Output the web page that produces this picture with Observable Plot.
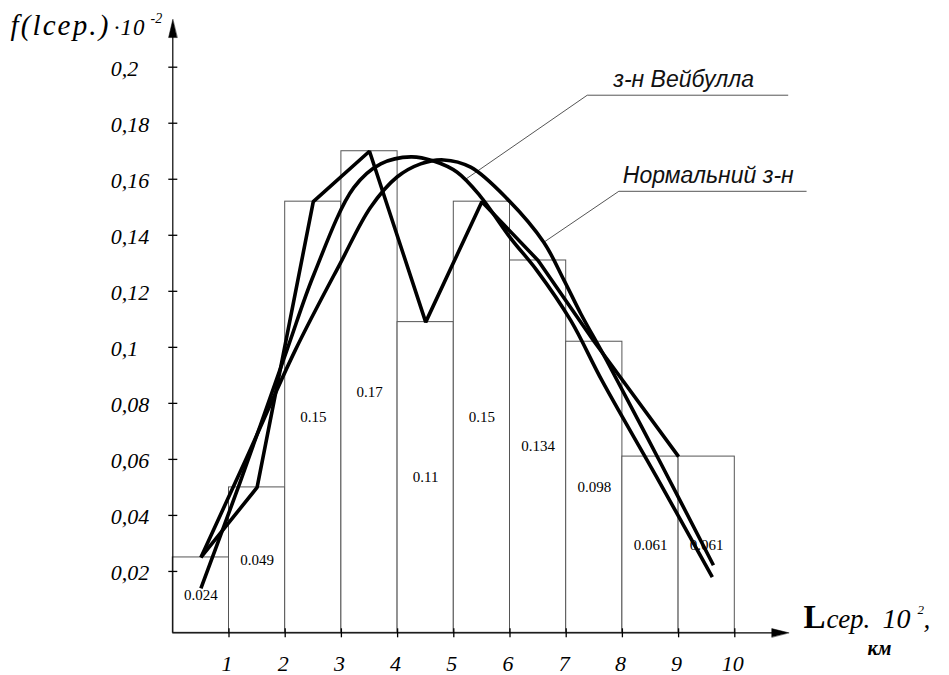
<!DOCTYPE html>
<html>
<head>
<meta charset="utf-8">
<script src="https://cdn.jsdelivr.net/npm/d3@7"></script>
<script src="https://cdn.jsdelivr.net/npm/@observablehq/plot@0.6"></script>
<style>
  html, body { margin: 0; padding: 0; background: #fff; }
  #chart svg { display: block; }
</style>
</head>
<body>
<div id="chart"></div>
<script>
// ---- data ----
const bins = [1, 2, 3, 4, 5, 6, 7, 8, 9, 10];
const freq = [0.025, 0.050, 0.152, 0.170, 0.109, 0.152, 0.131, 0.102, 0.061, 0.061];
const freqLabels = ["0.024", "0.049", "0.15", "0.17", "0.11", "0.15", "0.134", "0.098", "0.061", "0.061"];

const polygonX = [0.5, 1.5, 2.5, 3.5, 4.5, 5.5, 6.5, 7.5, 9];
const polygonY = [0.025, 0.050, 0.152, 0.170, 0.109, 0.152, 0.131, 0.102, 0.061];

const weibullX = [0.5, 1.2, 2.03, 2.51, 3.22, 3.70, 4.24, 4.64, 5.06, 5.47, 6.01, 6.48, 7.08, 7.64, 8.6, 9.6];
const weibullY = [0.014, 0.052, 0.099, 0.126, 0.157, 0.1655, 0.168, 0.1665, 0.1625, 0.154, 0.139, 0.1274, 0.1096, 0.088, 0.054, 0.018];

const normalX = [0.5, 1.3, 2.18, 2.98, 3.52, 3.99, 4.41, 4.82, 5.30, 5.95, 6.60, 6.96, 7.26, 7.72, 8.68, 9.62];
const normalY = [0.025, 0.060, 0.099, 0.130, 0.150, 0.1608, 0.1655, 0.1669, 0.1643, 0.153, 0.1375, 0.124, 0.112, 0.0953, 0.0587, 0.0222];

const yTicks = [0.02, 0.04, 0.06, 0.08, 0.1, 0.12, 0.14, 0.16, 0.18, 0.2];
const yTickLabels = ["0,02", "0,04", "0,06", "0,08", "0,1", "0,12", "0,14", "0,16", "0,18", "0,2"];
const xTicks = [1, 2, 3, 4, 5, 6, 7, 8, 9, 10];
const xTickLabels = ["1", "2", "3", "4", "5", "6", "7", "8", "9", "10"];

const weibullName = "з-н Вейбулла";
const normalName = "Нормальний з-н";
const weibullLeaderX = [5.196, 7.374, 10.943];
const weibullLeaderY = [0.1598, 0.190, 0.190];
const normalLeaderX = [6.601, 7.936, 11.27];
const normalLeaderY = [0.1375, 0.1557, 0.1557];

const yAxisOrigin = -0.0019;   // value where the drawn x axis sits
const yAxisEnd = 0.217;        // tip of the y arrow
const xAxisEnd = 10.96;        // tip of the x arrow

// ---- styles ----
const serif = "Liberation Serif, 'Times New Roman', serif";
const sans = "Liberation Sans, Arial, sans-serif";

const headShape = {
  draw(ctx, l, r) { ctx.moveTo(0, -l); ctx.lineTo(-r, 0); ctx.lineTo(r, 0); ctx.closePath(); }
};
const tickShape = {
  draw(ctx, l) { ctx.moveTo(0, 0); ctx.lineTo(0, -l); }
};

const svg = Plot.plot({
  width: 949,
  height: 675,
  marginLeft: 172.3,
  marginRight: 214.7,
  marginTop: 66.7,
  marginBottom: 42.7,
  style: { background: "white", color: "black" },
  x: { domain: [0, 10], axis: null },
  y: { domain: [yAxisOrigin, 0.2], axis: null },
  marks: [
    // histogram bars
    Plot.rect(bins, {
      x1: d => d - 1, x2: d => d,
      y1: yAxisOrigin, y2: (d, i) => freq[i],
      fill: "white", stroke: "#555", strokeWidth: 1
    }),
    Plot.text(bins, {
      x: d => d - 0.5, y: (d, i) => (yAxisOrigin + freq[i]) / 2,
      text: freqLabels, fontFamily: serif, fontSize: 15, fill: "black"
    }),
    // leader lines
    Plot.line(weibullLeaderX, { x: weibullLeaderX, y: weibullLeaderY, stroke: "#555", strokeWidth: 1 }),
    Plot.line(normalLeaderX, { x: normalLeaderX, y: normalLeaderY, stroke: "#555", strokeWidth: 1 }),
    Plot.text([weibullName], {
      x: weibullLeaderX[1], y: weibullLeaderY[1], text: d => d, dx: 26, dy: -8,
      textAnchor: "start", lineAnchor: "bottom",
      fontFamily: sans, fontStyle: "italic", fontSize: 23, fill: "#111"
    }),
    Plot.text([normalName], {
      x: normalLeaderX[1], y: normalLeaderY[1], text: d => d, dx: 4, dy: -8,
      textAnchor: "start", lineAnchor: "bottom",
      fontFamily: sans, fontStyle: "italic", fontSize: 23, fill: "#111"
    }),
    // curves
    Plot.line(polygonX, { x: polygonX, y: polygonY, stroke: "black", strokeWidth: 3.6, strokeLinejoin: "miter", strokeLinecap: "butt" }),
    Plot.line(weibullX, { x: weibullX, y: weibullY, curve: "catmull-rom", stroke: "black", strokeWidth: 3.6, strokeLinecap: "butt" }),
    Plot.line(normalX, { x: normalX, y: normalY, curve: "catmull-rom", stroke: "black", strokeWidth: 3.6, strokeLinecap: "butt" }),
    // axes
    Plot.ruleX([0], { y1: yAxisOrigin, y2: yAxisEnd - 0.003, stroke: "black", strokeWidth: 1.2 }),
    Plot.ruleY([yAxisOrigin], { x1: 0, x2: xAxisEnd - 0.05, stroke: "black", strokeWidth: 1.2 }),
    Plot.vector([0], { x: 0, y: yAxisEnd, length: 18, r: 4.2, rotate: 0, anchor: "end", shape: headShape, fill: "black", stroke: "black", strokeWidth: 0.5 }),
    Plot.vector([0], { x: xAxisEnd, y: yAxisOrigin, length: 17, r: 4.2, rotate: 90, anchor: "end", shape: headShape, fill: "black", stroke: "black", strokeWidth: 0.5 }),
    Plot.vector(yTicks, { x: 0, y: d => d, length: 9, rotate: 90, anchor: "middle", shape: tickShape, stroke: "black", strokeWidth: 1.3, strokeLinecap: "butt" }),
    Plot.vector(xTicks, { x: d => d, y: yAxisOrigin, length: 9, rotate: 0, anchor: "middle", shape: tickShape, stroke: "black", strokeWidth: 1.3, strokeLinecap: "butt" }),
    Plot.text(yTicks, {
      x: 0, y: d => d, text: yTickLabels, dx: -62, dy: 2, textAnchor: "start",
      fontFamily: serif, fontStyle: "italic", fontSize: 22, fill: "black"
    }),
    Plot.text(xTicks, {
      x: d => d, y: yAxisOrigin, text: xTickLabels, dy: 31, dx: -2,
      fontFamily: serif, fontStyle: "italic", fontSize: 22, fill: "black"
    }),
    // y axis title
    Plot.text(["f(lсер.)"], { frameAnchor: "top-left", text: d => d, dx: -162.3, dy: -32.2, textAnchor: "start", lineAnchor: "bottom", fontFamily: serif, fontStyle: "italic", fontSize: 29, fill: "black" }),
    Plot.text(["·10"], { frameAnchor: "top-left", text: d => d, dx: -59, dy: -32.2, textAnchor: "start", lineAnchor: "bottom", fontFamily: serif, fontStyle: "italic", fontSize: 23, fill: "black" }),
    Plot.text(["-2"], { frameAnchor: "top-left", text: d => d, dx: -22.3, dy: -44, textAnchor: "start", lineAnchor: "bottom", fontFamily: serif, fontStyle: "italic", fontSize: 14, fill: "black" }),
    // x axis title
    Plot.text(["L"], { frameAnchor: "bottom-right", text: d => d, dx: 68.7, dy: -5.3, textAnchor: "start", lineAnchor: "bottom", fontFamily: serif, fontWeight: "bold", fontSize: 33, fill: "black" }),
    Plot.text(["сер."], { frameAnchor: "bottom-right", text: d => d, dx: 91.7, dy: -5.3, textAnchor: "start", lineAnchor: "bottom", fontFamily: serif, fontStyle: "italic", fontSize: 27, fill: "black" }),
    Plot.text(["10"], { frameAnchor: "bottom-right", text: d => d, dx: 147.7, dy: -5.3, textAnchor: "start", lineAnchor: "bottom", fontFamily: serif, fontStyle: "italic", fontSize: 28, fill: "black" }),
    Plot.text(["2"], { frameAnchor: "bottom-right", text: d => d, dx: 182.7, dy: -19.3, textAnchor: "start", lineAnchor: "bottom", fontFamily: serif, fontStyle: "italic", fontSize: 13, fill: "black" }),
    Plot.text([","], { frameAnchor: "bottom-right", text: d => d, dx: 188.7, dy: -5.3, textAnchor: "start", lineAnchor: "bottom", fontFamily: serif, fontStyle: "italic", fontSize: 27, fill: "black" }),
    Plot.text(["км"], { frameAnchor: "bottom-right", text: d => d, dx: 144.7, dy: 21.7, textAnchor: "middle", lineAnchor: "bottom", fontFamily: serif, fontStyle: "italic", fontWeight: "bold", fontSize: 20, fill: "black" })
  ]
});

d3.select(svg).selectAll("text").each(function () {
  if (this.textContent === "f(lсер.)") this.setAttribute("letter-spacing", "2.2");
  if (this.textContent === "·10") this.setAttribute("letter-spacing", "1");
});

document.getElementById("chart").appendChild(svg);
</script>
</body>
</html>
